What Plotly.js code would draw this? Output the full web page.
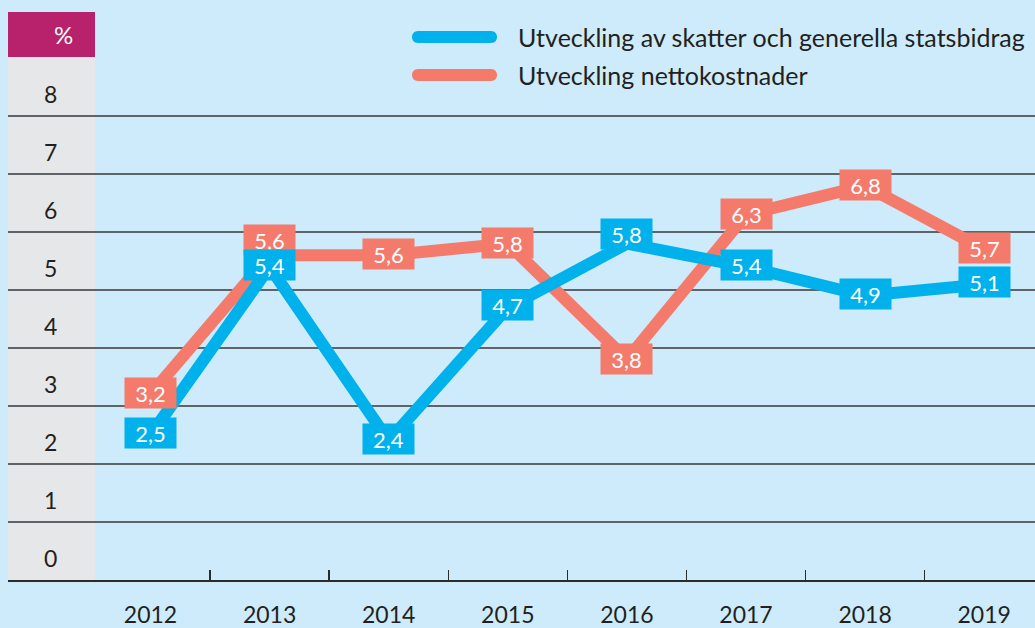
<!DOCTYPE html>
<html><head><meta charset="utf-8">
<script src="https://cdn.plot.ly/plotly-3.0.1.min.js"></script>
<style>html,body{margin:0;padding:0;background:#cdebfb}</style>
</head><body>
<div id="chart" style="width:1035px;height:628px"></div>
<script>
const years = [2012, 2013, 2014, 2015, 2016, 2017, 2018, 2019];
const skatter = [2.5, 5.4, 2.4, 4.7, 5.8, 5.4, 4.9, 5.1];
const netto = [3.2, 5.6, 5.6, 5.8, 3.8, 6.3, 6.8, 5.7];
const yTicks = [0, 1, 2, 3, 4, 5, 6, 7, 8];
const nameSkatter = 'Utveckling av skatter och generella statsbidrag';
const nameNetto = 'Utveckling nettokostnader';
const unitLabel = '%';

const BLUE = '#00b1ec', ORANGE = '#f47b6b', BG = '#cdebfb', GRAY = '#e6e7e8', MAGENTA = '#b8216c';
const FONT = 'Lato, "Noto Sans", sans-serif';
const W = 1035, H = 628, ML = 8, MR = 0, MT = 12, MB = 48;
const PW = W - ML - MR, PH = H - MT - MB;
const px = x => (x - ML) / PW;
const py = y => (H - MB - y) / PH;
const yTop = 8 + (116 - 12) / 58;
const yHead = (580 - 57) / 58;
const step = 119.1, firstPx = 150.5;

const traces = [
  {x: years, y: netto, mode: 'lines', line: {color: ORANGE, width: 12}, name: nameNetto, hoverinfo: 'skip'},
  {x: years, y: skatter, mode: 'lines', line: {color: BLUE, width: 12}, name: nameSkatter, hoverinfo: 'skip'}
];

const fmt = v => v.toFixed(1).replace('.', ',');
const annotations = [];
netto.forEach((v, i) => {
  annotations.push({x: years[i], y: v, xref: 'x', yref: 'y', text: fmt(v), showarrow: false,
    bgcolor: ORANGE, width: 49, height: 28, font: {family: FONT, size: 22, color: '#ffffff'},
    yshift: (years[i] === 2013 ? 15 : 1)});
});
skatter.forEach((v, i) => {
  annotations.push({x: years[i], y: v, xref: 'x', yref: 'y', text: fmt(v), showarrow: false,
    bgcolor: BLUE, width: 49, height: 28, font: {family: FONT, size: 22, color: '#ffffff'},
    yshift: (years[i] === 2016 ? 10 : 2)});
});
annotations.push({xref: 'paper', yref: 'y', x: px(51.5), y: (yHead + yTop) / 2, text: unitLabel, showarrow: false,
  font: {family: FONT, size: 24, color: '#ffffff'}});
annotations.push({xref: 'paper', yref: 'paper', x: px(516), y: py(37), xanchor: 'left', yanchor: 'middle', text: nameSkatter,
  showarrow: false, font: {family: FONT, size: 25, color: '#231f20'}});
annotations.push({xref: 'paper', yref: 'paper', x: px(516), y: py(75), xanchor: 'left', yanchor: 'middle', text: nameNetto,
  showarrow: false, font: {family: FONT, size: 25, color: '#231f20'}});

const pill = 'M -36.5,6 L 36.5,6 C 44.5,6 44.5,-6 36.5,-6 L -36.5,-6 C -44.5,-6 -44.5,6 -36.5,6 Z';
const shapes = [
  {type: 'rect', xref: 'paper', yref: 'y', x0: 0, x1: px(95), y0: 0, y1: yHead, fillcolor: GRAY, line: {width: 0}, layer: 'below'},
  {type: 'rect', xref: 'paper', yref: 'y', x0: 0, x1: px(95), y0: yHead, y1: yTop, fillcolor: MAGENTA, line: {width: 0}, layer: 'below'},
  {type: 'path', xref: 'paper', yref: 'paper', xsizemode: 'pixel', ysizemode: 'pixel', xanchor: px(454.5), yanchor: py(37),
    path: pill, fillcolor: BLUE, line: {width: 0}},
  {type: 'path', xref: 'paper', yref: 'paper', xsizemode: 'pixel', ysizemode: 'pixel', xanchor: px(454.5), yanchor: py(75),
    path: pill, fillcolor: ORANGE, line: {width: 0}}
];

const layout = {
  width: W, height: H,
  margin: {l: ML, r: MR, t: MT, b: MB, pad: 0},
  paper_bgcolor: BG, plot_bgcolor: BG,
  showlegend: false,
  font: {family: FONT, color: '#231f20'},
  xaxis: {
    range: [years[0] - (firstPx - ML) / step, years[years.length - 1] + (W - MR - (firstPx + step * (years.length - 1))) / step],
    tickmode: 'array', tickvals: years, ticktext: years.map(String),
    ticks: '', showgrid: false, zeroline: false,
    showline: true, linecolor: '#2b2b2b', linewidth: 1.5,
    tickfont: {family: FONT, size: 23, color: '#231f20'},
    ticklabelstandoff: 14,
    minor: {tickmode: 'array', tickvals: years.slice(1).map(y => y - 0.5), ticks: 'inside', ticklen: 10, tickcolor: '#2b2b2b', tickwidth: 1.5, showgrid: false},
    fixedrange: true
  },
  yaxis: {
    range: [0, yTop],
    tickmode: 'array', tickvals: yTicks, ticktext: yTicks.map(String),
    showgrid: true, gridcolor: '#5f6468', gridwidth: 1.5,
    zeroline: false, showline: false, ticks: '',
    ticklabelposition: 'inside', ticklabelstandoff: 33, ticklabelshift: -21,
    tickfont: {family: FONT, size: 23, color: '#231f20'},
    fixedrange: true
  },
  annotations: annotations,
  shapes: shapes
};

Plotly.newPlot('chart', traces, layout, {displayModeBar: false, staticPlot: true});
</script>
</body></html>
